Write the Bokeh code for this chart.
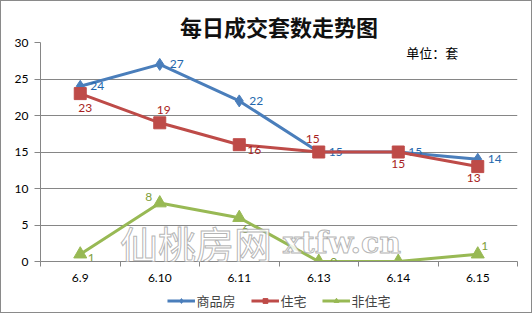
from bokeh.plotting import figure
from bokeh.layouts import column
from bokeh.models import (ColumnDataSource, FixedTicker, Legend, LegendItem, Label,
                          Range1d)
from bokeh.core.properties import value
from bokeh.embed import file_html
from bokeh.resources import INLINE

# ---- data ----
categories = ["6.9", "6.10", "6.11", "6.13", "6.14", "6.15"]
shangpinfang = [24, 27, 22, 15, 15, 14]
zhuzhai = [23, 19, 16, 15, 15, 13]
feizhuzhai = [1, 8, 6, 0, 0, 1]
series_names = ["商品房", "住宅", "非住宅"]
y_ticks = [0, 5, 10, 15, 20, 25, 30]

# ---- styles ----
line_colors = ["#4A7EBB", "#BE4B48", "#98B954"]
label_colors = ["#2467AD", "#A81E22", "#7E9E3A"]
markers = ["diamond", "square", "triangle"]
marker_sizes = [12, 12, 13]
offs = [
    ([10, 10, 10, 10, 10, 10], [0, 0, 0, 0, 0, 0]),
    ([5, 4, 15, -6, 0, -4], [14, -13, 5, -13, 12, 11]),
    ([11, -11, 6, 15, -4, 7], [4, -6, 11, 0, 12, -8]),
]
aligns = ["left", "center", "center"]

CJK = "Noto Sans CJK SC"
NUM = "Lato"

all_series = [shangpinfang, zhuzhai, feizhuzhai]
idx = list(range(len(categories)))
p = figure(frame_width=477, frame_height=219, output_backend="svg", toolbar_location=None,
           x_range=Range1d(-0.5, len(categories) - 0.5), y_range=Range1d(0, 30),
           min_border_left=39, min_border_right=14, min_border_top=41,
           min_border_bottom=27)
p.outline_line_color = None

p.title.text = "每日成交套数走势图"
p.title.align = "center"
p.title.text_font = CJK
p.title.text_font_size = "22px"
p.title.text_font_style = "bold"
p.title.text_color = "#111111"
p.title.standoff = 2

p.xaxis.ticker = FixedTicker(ticks=idx, minor_ticks=[i - 0.5 for i in range(len(categories) + 1)])
p.xaxis.major_label_overrides = {i: c for i, c in enumerate(categories)}
p.xaxis.major_tick_out = 0
p.xaxis.major_tick_in = 0
p.xaxis.minor_tick_out = 5
p.xaxis.minor_tick_in = 0
p.xaxis.minor_tick_line_color = "#868686"
p.xaxis.axis_line_color = "#868686"
p.xaxis.major_label_text_font = NUM
p.xaxis.major_label_text_font_size = "12px"
p.xaxis.major_label_text_color = "#000000"
p.xaxis.major_label_standoff = 7

p.yaxis.ticker = FixedTicker(ticks=y_ticks)
p.yaxis.major_tick_out = 6
p.yaxis.major_tick_in = 0
p.yaxis.minor_tick_line_color = None
p.yaxis.major_tick_line_color = "#868686"
p.yaxis.axis_line_color = "#868686"
p.yaxis.major_label_text_font = NUM
p.yaxis.major_label_text_font_size = "12px"
p.yaxis.major_label_text_color = "#000000"
p.yaxis.major_label_standoff = 6

p.xgrid.grid_line_color = None
p.ygrid.ticker = FixedTicker(ticks=y_ticks)
p.ygrid.grid_line_color = "#868686"

# watermark (kept inside the plot frame)
wm1 = Label(x=0.5, y=2.6, text="仙桃房网", text_font=CJK, text_font_size="38px",
            text_color="white", text_alpha=0.85, text_baseline="middle",
            text_outline_color="#a8a8a8")
wm2 = Label(x=2.55, y=2.6, text="xtfw.cn", text_font="DejaVu Serif", text_font_size="30px",
            text_color="white", text_alpha=0.85, text_baseline="middle",
            text_outline_color="#a8a8a8", text_font_style="bold")

for k, vals in enumerate(all_series):
    src = ColumnDataSource(dict(x=idx, y=vals, t=[str(v) for v in vals],
                                xo=offs[k][0], yo=offs[k][1]))
    p.line("x", "y", source=src, line_color=line_colors[k], line_width=3)
    p.scatter("x", "y", source=src, marker=markers[k], size=marker_sizes[k],
              fill_color=line_colors[k], line_color=line_colors[k])
    p.text("x", "y", text="t", source=src, x_offset="xo", y_offset="yo",
           text_font=value(NUM), text_font_size="12px", text_color=label_colors[k],
           text_align=aligns[k], text_baseline="middle")

p.add_layout(wm1)
p.add_layout(wm2)

unit = Label(x=4.1, y=28.6, text="单位：套", text_font=CJK, text_font_size="13px",
             text_color="#000000", text_baseline="middle")
p.add_layout(unit)

# legend strip: series drawn out of view so only the legend shows
p2 = figure(width=530, height=24, output_backend="svg", toolbar_location=None,
            x_range=Range1d(0, 1), y_range=Range1d(-100, -99), min_border=0)
p2.axis.visible = False
p2.grid.visible = False
p2.outline_line_color = None
items = []
for k, vals in enumerate(all_series):
    src2 = ColumnDataSource(dict(x=idx, y=vals))
    l = p2.line("x", "y", source=src2, line_color=line_colors[k], line_width=3)
    s = p2.scatter("x", "y", source=src2, marker=markers[k], size=9,
                   fill_color=line_colors[k], line_color=line_colors[k])
    items.append(LegendItem(label=series_names[k], renderers=[l, s]))
legend = Legend(items=items, orientation="horizontal", location="center",
                border_line_color=None, background_fill_alpha=0,
                label_text_font=CJK, label_text_font_size="13px",
                glyph_width=28, glyph_height=12, label_height=12,
                spacing=15, padding=0, margin=0, label_standoff=2)
p2.add_layout(legend, "center")

layout = column(p, p2, spacing=0)
layout.styles = {"border": "1px solid #8a8a8a"}

open("out.html", "w").write(file_html(layout, INLINE))
